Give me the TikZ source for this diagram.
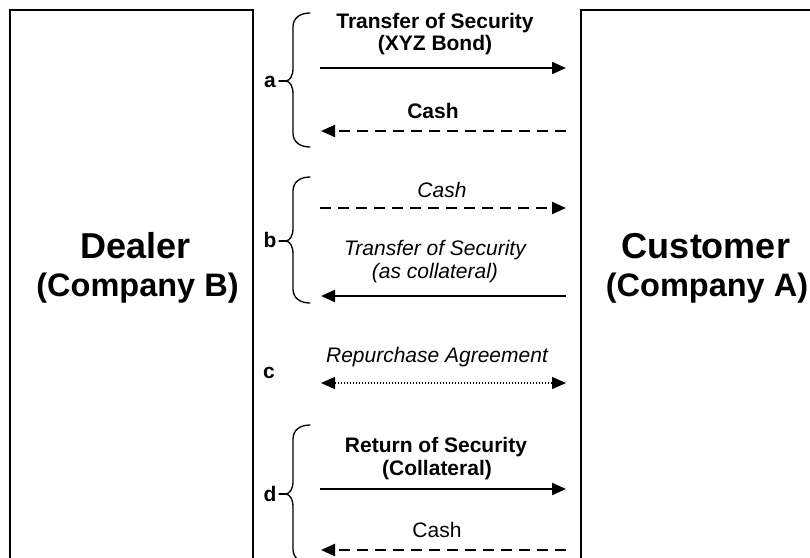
\documentclass[tikz,border=0pt]{standalone}
\usepackage{fontspec}
\setmainfont{Liberation Sans}
\usetikzlibrary{arrows.meta}
\newcommand\mybrace[3]{%
  \draw[bracestyle] (310,#1) .. controls (300,#1) and (293,{#1+5}) .. (293,{#1+14})
    -- (293,{#2-13}) .. controls (293,{#2-5}) and (290,#2) .. (285,#2)
    .. controls (290,#2) and (293,{#2+5}) .. (293,{#2+13})
    -- (293,{#3-14}) .. controls (293,{#3-5}) and (300,#3) .. (310,#3);
  \draw[bracestyle] (285,#2) -- (279,#2);}
\begin{document}
\begin{tikzpicture}[x=1pt,y=-1pt,
  party/.style={draw=black, line width=1.8pt, rectangle, inner sep=0pt},
  bigtxt/.style={font=\bfseries\fontsize{36}{40}\selectfont, anchor=base, inner sep=0pt},
  midtxt/.style={font=\bfseries\fontsize{32.5}{36}\selectfont, anchor=base, inner sep=0pt},
  btxt/.style={font=\bfseries\fontsize{21}{24}\selectfont, anchor=base, inner sep=0pt},
  itxt/.style={font=\itshape\fontsize{21}{24}\selectfont, anchor=base, inner sep=0pt},
  rtxt/.style={font=\fontsize{21}{24}\selectfont, anchor=base, inner sep=0pt},
  steplbl/.style={font=\bfseries\fontsize{21}{24}\selectfont, anchor=center, inner sep=0pt},
  tip/.style={-{Triangle[length=14pt,width=12pt]}},
  solidarr/.style={tip, line width=2.2pt},
  dasharr/.style={tip, line width=2.2pt, dash pattern=on 11pt off 7pt},
  dotarr/.style={{Triangle[length=14pt,width=12pt]}-{Triangle[length=14pt,width=12pt]}, line width=1.4pt, dash pattern=on 1.4pt off 1.6pt},
  bracestyle/.style={line width=1.3pt, line cap=round}
]
\useasboundingbox (0,0) rectangle (810,557);
\clip (0,0) rectangle (810,557);
\fill[white] (0,0) rectangle (810,557);

% party boxes
\node[party, minimum width=243pt, minimum height=620pt] (dealer) at (131.5,320) {};
\node[party, minimum width=254pt, minimum height=620pt] (customer) at (708,320) {};

\node[bigtxt] (dealername) at (135.5,258) {Dealer};
\node[midtxt] (dealerco) at (137.5,296) {(Company B)};
\node[bigtxt] (custname) at (706,258) {Customer};
\node[midtxt] (custco) at (707,296) {(Company A)};

% step a
\node[btxt] (ta1) at (435,28) {Transfer of Security};
\node[btxt] (ta2) at (435,50) {(XYZ Bond)};
\coordinate (a1s) at (320,68);
\coordinate (a1e) at (566,68);
\draw[solidarr] (a1s) -- (a1e);
\node[btxt] (ta3) at (433,118) {Cash};
\coordinate (a2s) at (566,131);
\coordinate (a2e) at (321,131);
\draw[dasharr] (a2s) -- (a2e);
\mybrace{13}{81}{147}
\node[steplbl] (la) at (270,82) {a};

% step b
\node[itxt] (tb1) at (442,197) {Cash};
\coordinate (b1s) at (320,208);
\coordinate (b1e) at (566,208);
\draw[dasharr] (b1s) -- (b1e);
\node[itxt] (tb2) at (435,255) {Transfer of Security};
\node[itxt] (tb3) at (435,278) {(as collateral)};
\coordinate (b2s) at (566,296);
\coordinate (b2e) at (321,296);
\draw[solidarr] (b2s) -- (b2e);
\mybrace{177}{241}{303}
\node[steplbl] (lb) at (270,240) {b};

% step c
\node[itxt] (tc1) at (437,362) {Repurchase Agreement};
\coordinate (c1s) at (321,383);
\coordinate (c1e) at (566,383);
\draw[dotarr] (c1s) -- (c1e);
\node[steplbl] (lc) at (269,373) {c};

% step d
\node[btxt] (td1) at (436,452) {Return of Security};
\node[btxt] (td2) at (437,475) {(Collateral)};
\coordinate (d1s) at (320,489);
\coordinate (d1e) at (566,489);
\draw[solidarr] (d1s) -- (d1e);
\node[rtxt] (td3) at (437,537) {Cash};
\coordinate (d2s) at (566,550);
\coordinate (d2e) at (321,550);
\draw[dasharr] (d2s) -- (d2e);
\mybrace{425}{494}{563}
\node[steplbl] (ld) at (270,494) {d};
\end{tikzpicture}
\end{document}
